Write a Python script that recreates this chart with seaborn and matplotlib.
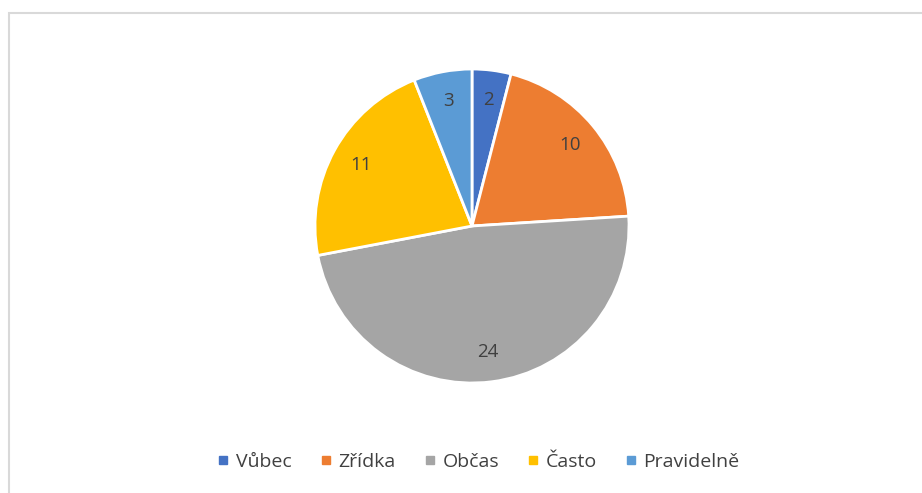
import matplotlib
matplotlib.use("Agg")
import matplotlib.pyplot as plt
import matplotlib.patches as mpatches
from matplotlib.lines import Line2D
import seaborn as sns

categories = ["Vůbec", "Zřídka", "Občas", "Často", "Pravidelně"]
values = [2, 10, 24, 11, 3]
colors = ["#4472C4", "#ED7D31", "#A5A5A5", "#FFC000", "#5B9BD5"]

sns.set_theme(style="white")
plt.rcParams["font.family"] = ["Open Sans", "DejaVu Sans"]

W, H = 922, 493
fig = plt.figure(figsize=(W / 100, H / 100), dpi=100)

# chart frame (light gray, left/top visible)
fig.add_artist(mpatches.Rectangle((9 / W, -0.1), 1.2, 1 - 13 / H + 0.1,
                                  transform=fig.transFigure, fill=False,
                                  edgecolor="#D9D9D9", linewidth=1.5))

cx, cy, r = 472, 226, 157
ax = fig.add_axes([(cx - r) / W, (H - cy - r) / H, 2 * r / W, 2 * r / H])
wedges, texts = ax.pie(values, colors=colors, startangle=90, counterclock=False,
                       labels=[str(v) for v in values], labeldistance=0.81,
                       wedgeprops=dict(edgecolor="white", linewidth=2),
                       textprops=dict(color="#404040", fontsize=13.5))
for t in texts:
    t.set_horizontalalignment("center")
    t.set_verticalalignment("center")
ax.set_xlim(-1.0, 1.0)
ax.set_ylim(-1.0, 1.0)
ax.set_aspect("equal")

handles = [Line2D([0], [0], marker="s", linestyle="", markersize=6,
                  markerfacecolor=c, markeredgecolor=c) for c in colors]
fig.legend(handles, categories, loc="center", bbox_to_anchor=(479 / W, 1 - 462 / H),
           ncol=5, frameon=False, fontsize=14, handlelength=0.5,
           handletextpad=0.4, columnspacing=1.5, labelcolor="#404040")

fig.savefig("out.png", dpi=100)
